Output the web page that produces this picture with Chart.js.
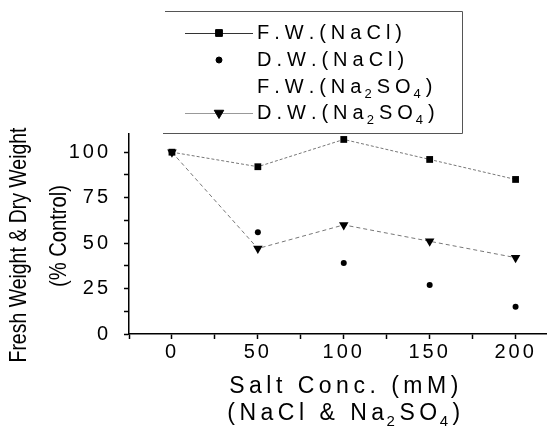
<!DOCTYPE html>
<html>
<head>
<meta charset="utf-8">
<script src="https://cdn.jsdelivr.net/npm/chart.js@4.4.1/dist/chart.umd.min.js"></script>
<style>
  html, body { margin: 0; padding: 0; background: #fff; }
  #chart { display: block; }
</style>
</head>
<body>
<canvas id="chart" width="552" height="428"></canvas>
<script>
// salt concentration (mM)
const concentrations = [0, 50, 100, 150, 200];

// fresh and dry weight, % of control
const fwNaCl = [100, 92, 107, 96, 85];
const dwNaCl = [100, 56, 39, 27, 15];
const fwNa2SO4 = []; // in the legend, but nothing plotted for it
const dwNa2SO4 = [100, 47, 60, 51, 42];

const seriesLabels = ['F.W.(NaCl)', 'D.W.(NaCl)', 'F.W.(Na₂SO₄)', 'D.W.(Na₂SO₄)'];

const xTickLabels = [0, 50, 100, 150, 200];
const yTickLabels = [0, 25, 50, 75, 100];
const xTitleLines = ['Salt Conc. (mM)', '(NaCl & Na₂SO₄)'];
const yTitleLines = ['Fresh Weight & Dry Weight', '(% Control)'];

const FONT = '"Liberation Sans", Arial, sans-serif';
const SUBS = '₀₁₂₃₄₅₆₇₈₉';

function toPoints(values) {
    return values.map((v, i) => ({ x: concentrations[i], y: v }));
}

// writes text char by char, subscript digits smaller and lower; returns the width
function richText(ctx, text, x, y, size, draw) {
    const start = x;
    for (const ch of text) {
        const k = SUBS.indexOf(ch);
        if (k >= 0) {
            ctx.font = Math.round(size * 0.65) + 'px ' + FONT;
            if (draw) ctx.fillText(String(k), x - 2, y + size * 0.35);
            x += ctx.measureText(String(k)).width - 2;
        } else {
            ctx.font = size + 'px ' + FONT;
            if (draw) ctx.fillText(ch, x, y);
            x += ctx.measureText(ch).width;
        }
    }
    return x - start;
}

// the original uses widely spaced lettering
const spacingPlugin = {
    id: 'spacing',
    beforeDraw(chart) {
        chart.ctx.letterSpacing = '3px';
    }
};

// axis titles: squeezed rotated y title, spaced x title
const titlePlugin = {
    id: 'axisTitles',
    afterDraw(chart) {
        const ctx = chart.ctx;
        const spots = [{ x: 19, y: 245, len: 235 }, { x: 59, y: 236, len: 102 }];
        ctx.save();
        ctx.letterSpacing = '0px';
        ctx.font = '24px ' + FONT;
        ctx.fillStyle = '#000';
        ctx.textAlign = 'center';
        ctx.textBaseline = 'middle';
        yTitleLines.forEach((line, i) => {
            const s = spots[i];
            const w = ctx.measureText(line).width;
            ctx.save();
            ctx.translate(s.x, s.y);
            ctx.rotate(-Math.PI / 2);
            ctx.scale(s.len / w, 1);
            ctx.fillText(line, 0, 0);
            ctx.restore();
        });

        ctx.textAlign = 'left';
        ctx.letterSpacing = '4.5px';
        const cx = 346;
        const rows = [387, 414];
        xTitleLines.forEach((line, i) => {
            const w = richText(ctx, line, 0, 0, 23, false);
            richText(ctx, line, cx - w / 2, rows[i], 23, true);
        });
        ctx.restore();
    }
};

// boxed legend at the top, drawn from the dataset labels
const legendPlugin = {
    id: 'boxLegend',
    afterDraw(chart) {
        const ctx = chart.ctx;
        const rowY = [33, 60, 87, 113];
        const sampleLine = ['#333', null, null, '#999'];
        ctx.save();

        // frame: top, right and bottom edges
        ctx.strokeStyle = '#555';
        ctx.lineWidth = 1;
        ctx.beginPath();
        ctx.moveTo(165, 11.5);
        ctx.lineTo(462.5, 11.5);
        ctx.lineTo(462.5, 133.5);
        ctx.lineTo(163, 133.5);
        ctx.stroke();

        chart.data.datasets.forEach((ds, i) => {
            const y = rowY[i];
            if (sampleLine[i]) {
                ctx.strokeStyle = sampleLine[i];
                ctx.lineWidth = 1;
                ctx.setLineDash([]);
                ctx.beginPath();
                ctx.moveTo(185, y + 0.5);
                ctx.lineTo(253, y + 0.5);
                ctx.stroke();
            }
            if (ds.pointRadius > 0) {
                ctx.fillStyle = '#000';
                ctx.strokeStyle = '#000';
                Chart.helpers.drawPoint(ctx, {
                    pointStyle: ds.pointStyle,
                    radius: ds.pointRadius,
                    rotation: ds.rotation || 0,
                    borderWidth: 1
                }, 219, y);
            }
            ctx.fillStyle = '#000';
            ctx.textAlign = 'left';
            ctx.textBaseline = 'middle';
            ctx.letterSpacing = '5px';
            richText(ctx, ds.label, 257, y, 20, true);
        });
        ctx.restore();
    }
};

const ctx = document.getElementById('chart').getContext('2d');
const weightChart = new Chart(ctx, {
    type: 'scatter',
    data: {
        datasets: [{
            label: seriesLabels[0],
            data: toPoints(fwNaCl),
            showLine: true,
            borderColor: '#777',
            borderWidth: 1,
            borderDash: [3, 2],
            pointStyle: 'rect',
            pointRadius: 4.8,
            pointBackgroundColor: '#000',
            pointBorderColor: '#000',
            pointBorderWidth: 0
        }, {
            label: seriesLabels[1],
            data: toPoints(dwNaCl),
            showLine: false,
            pointStyle: 'circle',
            pointRadius: 3,
            pointBackgroundColor: '#000',
            pointBorderColor: '#000',
            pointBorderWidth: 0
        }, {
            label: seriesLabels[2],
            data: toPoints(fwNa2SO4),
            showLine: false,
            pointRadius: 0
        }, {
            label: seriesLabels[3],
            data: toPoints(dwNa2SO4),
            showLine: true,
            borderColor: '#777',
            borderWidth: 1,
            borderDash: [4, 3],
            pointStyle: 'triangle',
            rotation: 180,
            pointRadius: 5.5,
            pointBackgroundColor: '#000',
            pointBorderColor: '#000',
            pointBorderWidth: 0
        }]
    },
    options: {
        responsive: false,
        animation: false,
        devicePixelRatio: 1,
        clip: false,
        layout: { padding: { top: 134, right: 2, bottom: 0, left: 0 } },
        plugins: {
            legend: { display: false },
            tooltip: { enabled: false }
        },
        scales: {
            x: {
                type: 'linear',
                min: -25,
                max: 218,
                afterFit: (scale) => { scale.height = 94; },
                border: { display: true, color: '#000', width: 1.5 },
                grid: { display: true, drawOnChartArea: false, drawTicks: true, tickLength: 5, tickColor: '#000', tickWidth: 1.5 },
                ticks: {
                    stepSize: 25,
                    includeBounds: false,
                    autoSkip: false,
                    maxRotation: 0,
                    minRotation: 0,
                    padding: 1,
                    color: '#000',
                    font: { family: FONT, size: 20 },
                    callback: (v) => xTickLabels.includes(v) ? String(v) : ''
                }
            },
            y: {
                min: 0,
                max: 110,
                afterFit: (scale) => { scale.width = 129; },
                border: { display: true, color: '#000', width: 1.5 },
                grid: { display: true, drawOnChartArea: false, drawTicks: true, tickLength: 5, tickColor: '#000', tickWidth: 1.5 },
                ticks: {
                    stepSize: 12.5,
                    includeBounds: false,
                    autoSkip: false,
                    padding: 13,
                    color: '#000',
                    font: { family: FONT, size: 20 },
                    callback: (v) => yTickLabels.includes(v) ? String(v) : ''
                }
            }
        }
    },
    plugins: [spacingPlugin, titlePlugin, legendPlugin]
});
</script>
</body>
</html>
